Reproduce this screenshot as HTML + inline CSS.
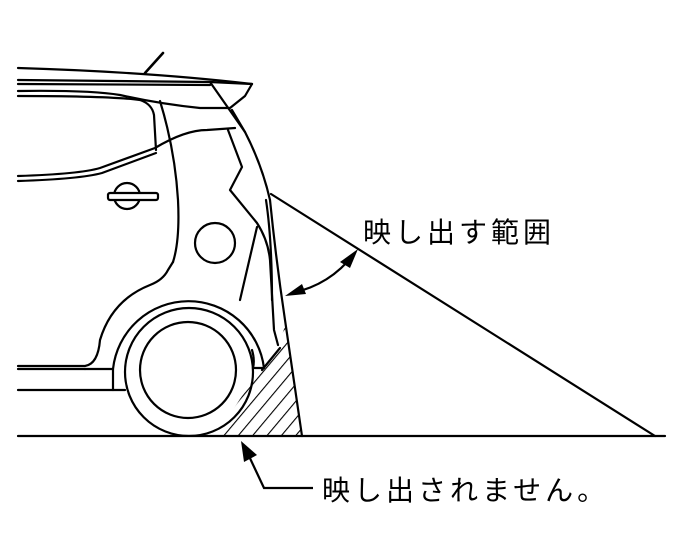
<!DOCTYPE html>
<html><head><meta charset="utf-8"><style>
html,body{margin:0;padding:0;background:#fff;}
svg{display:block;}
text{font-family:"Liberation Sans","Noto Sans CJK JP",sans-serif;font-size:28px;fill:#000;}
</style></head><body>
<svg width="685" height="555" viewBox="0 0 685 555" xmlns="http://www.w3.org/2000/svg">
<defs>
<pattern id="h" patternUnits="userSpaceOnUse" width="11" height="11" patternTransform="rotate(40)">
<line x1="0" y1="0" x2="0" y2="11" stroke="#000" stroke-width="2.2"/>
</pattern>
<clipPath id="c"><rect x="0" y="0" width="685" height="436"/></clipPath>
</defs>
<g fill="none" stroke="#000" stroke-width="2.2" stroke-linejoin="round" stroke-linecap="round">
<path d="M218,436 L302,436 L286,322 Q282,340 270,352 L262,370 Q240,395 218,436 Z" fill="url(#h)" stroke="none"/>
<line x1="18" y1="436" x2="665" y2="436"/>
<line x1="271" y1="194" x2="655" y2="436"/>
<path d="M18,68 Q150,72 252,84"/>
<line x1="145" y1="73" x2="163" y2="53" stroke-width="2.6"/>
<path d="M18,80 L210,82 L252,84"/>
<path d="M18,84 L210,85"/>
<path d="M18,91 Q90,90 120,95 Q160,104 200,108 L230,108 L245,96 L252,84"/>
<path d="M18,96 Q110,96 140,100 Q152,104 154,115 L156,150"/>
<path d="M18,176 Q80,174 100,168 L155,148 Q185,130 207,130 L235,128"/>
<path d="M18,181 Q80,179 102,173 L156,153"/>
<path d="M160,101 Q175,150 178,200 Q180,240 173,262"/>
<path d="M210,82 L245,132 Q262,165 270,200 Q276,260 285,320 L302,436"/>
<path d="M232,110 L245,132"/>
<path d="M228,130 L242,167 L230,190 L257,223 Q268,240 270,260 L274,330 L278,345"/>
<path d="M266,200 Q272,240 272,300"/>
<path d="M257,227 L240,300"/>
<circle cx="215" cy="243" r="20"/>
<circle cx="127" cy="196" r="13" fill="#fff"/>
<rect x="108" y="193" width="50" height="7" rx="2" fill="#fff"/>
<path d="M18,366 L85,366 Q98,364 100,340 Q112,300 150,285 Q163,280 168,270 L173,262"/>
<path d="M18,369 L85,369"/>
<path d="M18,390 L113,390 L113,369 L85,369"/>
<path d="M113,369 A76,76 0 0 1 264,368 L253,368"/>
<path d="M113,390 L125,390"/>
<g clip-path="url(#c)">
<circle cx="189" cy="372" r="64"/>
</g>
<circle cx="188" cy="370" r="48"/>
<path d="M253,368 Q255,360 252,350"/>
<path d="M262,370 L280,348"/>
<path d="M292,293 Q330,285 354,254"/>
</g>
<polygon points="285,296 302,284 306,294" fill="#000"/>
<polygon points="358,249 350,268 340,262" fill="#000"/>
<g fill="none" stroke="#000" stroke-width="2.2">
<path d="M248,454 L264,488 L313,488"/>
</g>
<polygon points="241,441 257,455 244,462" fill="#000"/>
<text x="363" y="242" letter-spacing="4">映し出す範囲</text>
<text x="322" y="500" letter-spacing="4">映し出されません。</text>
</svg>
</body></html>
